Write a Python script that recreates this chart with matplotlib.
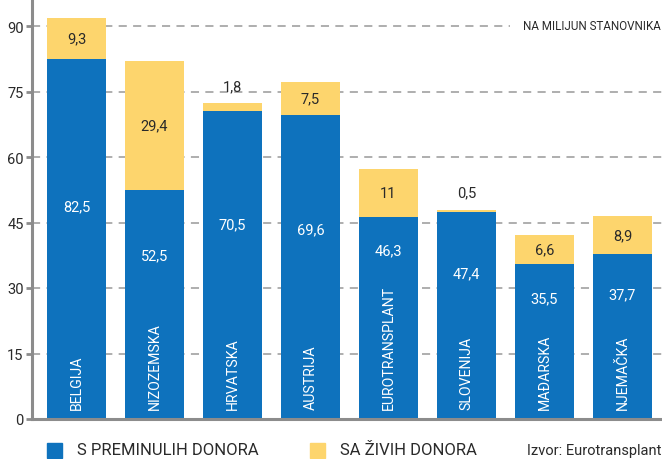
import matplotlib
matplotlib.use("Agg")
import matplotlib.pyplot as plt
from matplotlib.patches import Rectangle

countries = ["BELGIJA", "NIZOZEMSKA", "HRVATSKA", "AUSTRIJA", "EUROTRANSPLANT",
             "SLOVENIJA", "MAĐARSKA", "NJEMAČKA"]
deceased = [82.5, 52.5, 70.5, 69.6, 46.3, 47.4, 35.5, 37.7]
living = [9.3, 29.4, 1.8, 7.5, 11, 0.5, 6.6, 8.9]
yticks = [0, 15, 30, 45, 60, 75, 90]

BLUE = "#0E72BD"
YELLOW = "#FDD56D"
DARK = "#2a2a2a"
GRAY = "#8c8c8c"
FONT = "Roboto"

def fmt(v):
    s = ("%g" % v)
    return s.replace(".", ",")

W, H = 662, 460
fig = plt.figure(figsize=(W / 100, H / 100), dpi=100)
ax = fig.add_axes([32 / W, (H - 420) / H, (W - 32) / W, 420 / H])
ymax = 420 / (393 / 90)
ax.set_ylim(0, ymax)
ax.set_xlim(-0.57, 7.506)

x = list(range(len(countries)))
bw = 0.757
ax.bar(x, deceased, width=bw, color=BLUE, zorder=3)
ax.bar(x, living, width=bw, bottom=deceased, color=YELLOW, zorder=3)

for t in yticks[1:]:
    ax.axhline(t, color="#a8a8a8", lw=1.3, ls=(0, (4.5, 3.5)), zorder=1)

for s in ["top", "right"]:
    ax.spines[s].set_visible(False)
for s in ["left", "bottom"]:
    ax.spines[s].set_color(GRAY)
    ax.spines[s].set_linewidth(2.2)
    ax.spines[s].set_zorder(4)
ax.set_yticks(yticks)
ax.set_yticklabels([str(t) for t in yticks], fontfamily=FONT, fontsize=10.5, color=DARK)
ax.tick_params(axis="y", length=4, width=2, color=GRAY, pad=2)
ax.set_xticks([])

fig.canvas.draw()
r = fig.canvas.get_renderer()
inv = ax.transData.inverted()
for i, (c, d, l) in enumerate(zip(countries, deceased, living)):
    t = ax.text(i, 2.4, c, rotation=90, ha="center", va="bottom", color="white",
                fontfamily=FONT, fontsize=10.2, zorder=5)
    bb = t.get_window_extent(r)
    top = inv.transform((0, bb.y1))[1]
    ax.text(i, (top + d) / 2, fmt(d), ha="center", va="center", color="white",
            fontfamily=FONT, fontsize=10.5, zorder=5)
    if l >= 3:
        ax.text(i, d + l / 2, fmt(l), ha="center", va="center", color=DARK,
                fontfamily=FONT, fontsize=10.5, zorder=5)
    else:
        ax.text(i, d + l + 2.3, fmt(l), ha="center", va="bottom", color=DARK,
                fontfamily=FONT, fontsize=10.5, zorder=5)

fig.text(662 / W - 0.002, 1 - 27 / H, "NA MILIJUN STANOVNIKA", ha="right", va="center",
         fontfamily=FONT, fontsize=8.4, color=DARK, zorder=6,
         bbox=dict(facecolor="white", edgecolor="none", pad=9))

# legend
fig.patches.append(Rectangle((47 / W, 1 - 459 / H), 15 / W, 15 / H, color=BLUE,
                             transform=fig.transFigure, figure=fig))
fig.text(77 / W, 1 - 451 / H, "S PREMINULIH DONORA", ha="left", va="center",
         fontfamily=FONT, fontsize=12, color=DARK)
fig.patches.append(Rectangle((310 / W, 1 - 459 / H), 15 / W, 15 / H, color=YELLOW,
                             transform=fig.transFigure, figure=fig))
fig.text(340 / W, 1 - 451 / H, "SA ŽIVIH DONORA", ha="left", va="center",
         fontfamily=FONT, fontsize=12, color=DARK)
fig.text(661 / W, 1 - 451 / H, "Izvor: Eurotransplant", ha="right", va="center",
         fontfamily=FONT, fontsize=10.5, color=DARK)

fig.savefig("out.png", dpi=100)
